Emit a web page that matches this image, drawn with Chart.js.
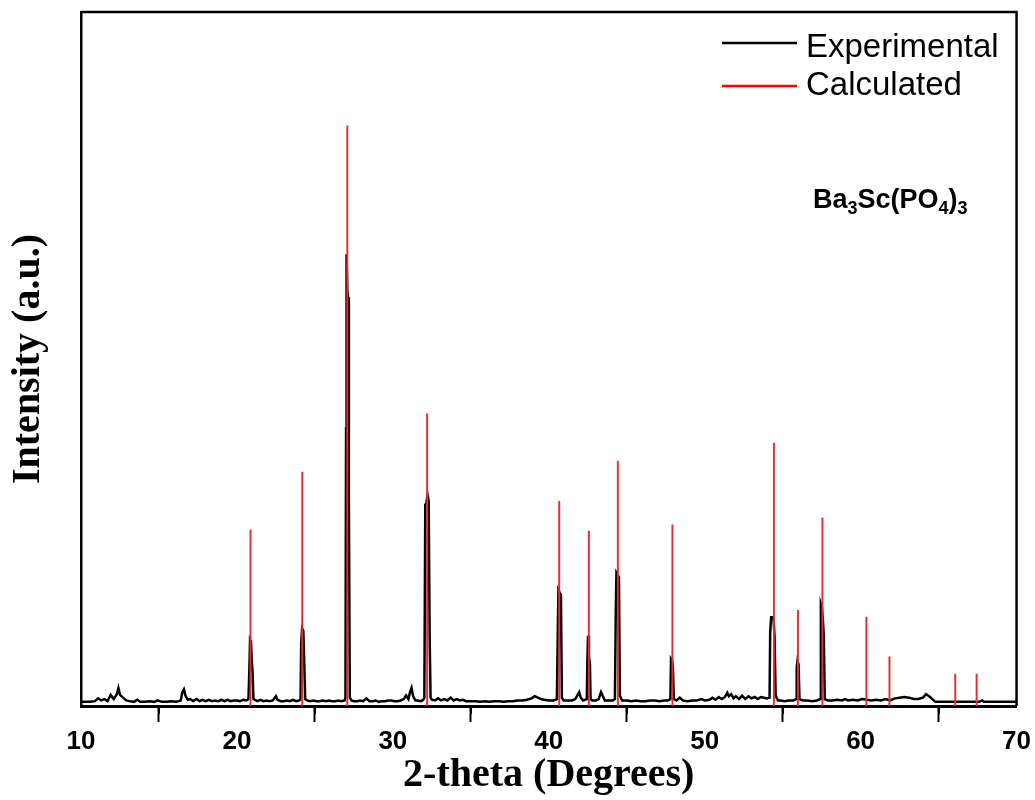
<!DOCTYPE html>
<html lang="en">
<head>
    <meta charset="UTF-8">
    <title>XRD - Ba3Sc(PO4)3</title>
    <script src="https://cdn.jsdelivr.net/npm/chart.js"></script>
    <style>
        html, body { margin: 0; padding: 0; background: #fff; }
        #wrap { width: 1035px; height: 800px; }
    </style>
</head>
<body>
    <div id="wrap">
        <canvas id="xrdChart" width="1035" height="800"></canvas>
    </div>
    <script>
        // x axis ticks (2-theta)
        const xTicks = [10, 20, 30, 40, 50, 60, 70];
        const minorTicks = [15, 25, 35, 45, 55, 65];

        // calculated reflections: positions and relative intensities
        const calcPos = [20.87, 24.19, 27.08, 32.2, 40.67, 42.57, 44.43, 47.93, 54.44, 55.98, 57.55, 60.37, 61.85, 66.07, 67.44];
        const calcInt = [25.4, 33.7, 83.6, 42.1, 29.5, 25.2, 35.3, 26.1, 37.9, 13.8, 27.1, 12.8, 7.1, 4.6, 4.6];

        // experimental pattern, [2-theta, intensity]
        const experimental = [
            [10.0, 0.6], [10.3, 0.6], [10.6, 0.6], [10.9, 0.7], [11.1, 1.1], [11.3, 0.8], [11.5, 1.0], [11.7, 0.7],
            [11.9, 1.6], [12.1, 1.0], [12.3, 1.7], [12.4, 2.6], [12.5, 1.6], [12.7, 1.2], [12.9, 0.8], [13.1, 0.7],
            [13.4, 0.6], [13.6, 0.9], [13.8, 0.6], [14.1, 0.6], [14.4, 0.7], [14.7, 0.6], [14.9, 0.8], [15.2, 0.6],
            [15.5, 0.6], [15.8, 0.7], [16.1, 0.6], [16.4, 0.8], [16.5, 2.0], [16.6, 2.4], [16.7, 1.5], [16.85, 0.9],
            [17.0, 1.0], [17.2, 0.7], [17.4, 1.0], [17.6, 0.7], [17.8, 0.9], [18.0, 0.7], [18.2, 0.9], [18.4, 0.7],
            [18.6, 0.8], [18.8, 0.7], [19.0, 0.9], [19.2, 0.7], [19.4, 0.9], [19.6, 0.7], [19.8, 0.8], [20.0, 0.8],
            [20.2, 0.7], [20.4, 0.9], [20.6, 0.8], [20.74, 1.0], [20.8, 5.5], [20.84, 9.5], [20.9, 9.2], [20.95, 6.6],
            [21.0, 5.0], [21.06, 1.0], [21.15, 0.9], [21.3, 0.7], [21.5, 0.9], [21.7, 0.7], [21.9, 0.8], [22.1, 0.7],
            [22.3, 0.8], [22.5, 1.4], [22.6, 0.9], [22.8, 0.7], [23.0, 0.7], [23.2, 0.8], [23.4, 0.7], [23.6, 0.9],
            [23.8, 0.7], [24.0, 0.8], [24.08, 1.0], [24.12, 9.0], [24.18, 11.2], [24.26, 10.8], [24.32, 6.0], [24.38, 1.0],
            [24.5, 0.8], [24.7, 0.7], [24.9, 0.8], [25.1, 0.7], [25.3, 0.7], [25.5, 0.8], [25.7, 0.7], [25.9, 0.8],
            [26.1, 0.7], [26.3, 0.7], [26.5, 0.8], [26.7, 0.7], [26.9, 0.8], [26.96, 1.2], [27.0, 40.0], [27.03, 65.1],
            [27.08, 60.0], [27.13, 58.9], [27.18, 30.0], [27.24, 1.2], [27.35, 0.8], [27.5, 0.7], [27.7, 0.7], [27.9, 0.8],
            [28.1, 0.7], [28.3, 1.1], [28.5, 0.7], [28.7, 0.7], [28.9, 0.8], [29.1, 0.6], [29.3, 0.7], [29.5, 0.7],
            [29.7, 0.8], [29.9, 0.8], [30.1, 0.7], [30.3, 0.7], [30.5, 0.8], [30.7, 1.0], [30.85, 1.5], [31.0, 1.0],
            [31.1, 2.0], [31.2, 2.6], [31.3, 1.4], [31.45, 0.8], [31.6, 0.8], [31.8, 0.7], [31.95, 0.9], [32.02, 1.2],
            [32.08, 29.0], [32.15, 29.2], [32.22, 30.5], [32.3, 29.5], [32.36, 10.0], [32.42, 1.2], [32.5, 0.9], [32.7, 0.8],
            [32.9, 1.1], [33.1, 0.8], [33.3, 1.0], [33.5, 0.8], [33.7, 1.2], [33.9, 0.8], [34.1, 1.0], [34.3, 0.8],
            [34.5, 0.9], [34.7, 0.7], [35.0, 0.7], [35.3, 0.7], [35.6, 0.6], [35.9, 0.7], [36.2, 0.6], [36.5, 0.7],
            [36.8, 0.7], [37.1, 0.6], [37.4, 0.7], [37.7, 0.7], [38.0, 0.8], [38.3, 0.8], [38.6, 0.9], [38.9, 1.1],
            [39.1, 1.4], [39.3, 1.2], [39.5, 1.0], [39.7, 0.9], [40.0, 0.8], [40.3, 0.8], [40.52, 1.0], [40.58, 11.0],
            [40.62, 16.7], [40.7, 16.3], [40.78, 16.0], [40.84, 1.2], [40.95, 0.8], [41.2, 0.8], [41.5, 0.8], [41.7, 1.0],
            [41.85, 1.6], [41.95, 2.0], [42.05, 1.2], [42.2, 0.8], [42.44, 1.0], [42.48, 7.0], [42.52, 10.1], [42.58, 7.1],
            [42.64, 6.0], [42.68, 1.0], [42.8, 0.8], [43.0, 0.8], [43.2, 1.0], [43.35, 2.0], [43.45, 1.5], [43.6, 0.8],
            [43.9, 0.8], [44.1, 0.8], [44.24, 1.0], [44.3, 14.0], [44.34, 19.2], [44.42, 18.9], [44.5, 18.5], [44.56, 1.5],
            [44.7, 0.8], [45.0, 0.8], [45.3, 0.7], [45.6, 0.8], [45.9, 0.7], [46.2, 0.7], [46.5, 0.8], [46.8, 0.8],
            [47.1, 0.7], [47.4, 0.8], [47.65, 0.8], [47.8, 1.0], [47.84, 6.8], [47.9, 6.6], [47.96, 5.6], [48.02, 1.0],
            [48.2, 0.8], [48.4, 1.2], [48.6, 0.8], [48.9, 0.7], [49.2, 0.8], [49.5, 0.8], [49.8, 1.0], [50.0, 0.8],
            [50.3, 0.9], [50.5, 1.2], [50.7, 0.9], [50.9, 1.3], [51.1, 1.0], [51.3, 1.3], [51.45, 1.9], [51.55, 1.4],
            [51.7, 1.7], [51.85, 1.1], [52.0, 1.4], [52.2, 1.0], [52.4, 1.5], [52.6, 1.0], [52.8, 1.4], [53.0, 1.1],
            [53.2, 1.3], [53.4, 1.0], [53.6, 1.3], [53.8, 1.2], [54.0, 1.1], [54.16, 1.2], [54.2, 10.5], [54.26, 12.8],
            [54.34, 12.8], [54.42, 12.5], [54.48, 10.0], [54.55, 1.5], [54.7, 0.8], [54.9, 0.8], [55.1, 0.7], [55.4, 0.8],
            [55.7, 0.8], [55.86, 1.0], [55.9, 5.5], [55.95, 6.5], [56.02, 6.0], [56.08, 1.0], [56.3, 0.8], [56.6, 0.8],
            [56.9, 0.7], [57.2, 0.8], [57.4, 1.0], [57.45, 14.7], [57.52, 14.2], [57.58, 12.4], [57.64, 10.0], [57.7, 1.0],
            [57.9, 0.8], [58.2, 0.8], [58.5, 0.9], [58.8, 0.8], [59.0, 1.0], [59.2, 0.8], [59.5, 0.9], [59.8, 0.8],
            [60.1, 1.0], [60.4, 0.9], [60.7, 0.8], [61.0, 0.9], [61.3, 0.8], [61.6, 1.0], [61.9, 0.8], [62.2, 1.1],
            [62.5, 1.2], [62.8, 1.3], [63.1, 1.2], [63.4, 1.0], [63.7, 1.0], [64.0, 1.2], [64.2, 1.7], [64.4, 1.4],
            [64.6, 1.0], [64.8, 0.6], [65.0, 0.6], [65.3, 0.6], [65.6, 0.6], [66.0, 0.6], [66.4, 0.6], [66.8, 0.6],
            [67.2, 0.6], [67.6, 0.6], [67.8, 0.8], [67.9, 0.6], [68.3, 0.6], [68.7, 0.6], [69.1, 0.6], [69.5, 0.6],
            [69.8, 0.6], [70.0, 0.6]
        ];

        const RED = 'rgb(228, 45, 55)';

        // frame, minor ticks, legend and compound label
        const decorations = {
            id: 'decorations',
            afterDraw(chart) {
                const ctx = chart.ctx;
                const area = chart.chartArea;
                const xs = chart.scales.x;
                ctx.save();
                ctx.strokeStyle = '#000';
                ctx.lineWidth = 2.5;
                ctx.beginPath();
                ctx.moveTo(area.left, area.top);
                ctx.lineTo(area.right, area.top);
                ctx.lineTo(area.right, area.bottom);
                ctx.stroke();

                ctx.lineWidth = 2;
                minorTicks.forEach(v => {
                    const px = Math.round(xs.getPixelForValue(v));
                    ctx.beginPath();
                    ctx.moveTo(px, area.bottom);
                    ctx.lineTo(px, area.bottom + 8);
                    ctx.stroke();
                });

                // legend
                ctx.lineWidth = 2.5;
                ctx.strokeStyle = '#000';
                ctx.beginPath();
                ctx.moveTo(722, 43);
                ctx.lineTo(797, 43);
                ctx.stroke();
                ctx.strokeStyle = 'rgb(255, 0, 0)';
                ctx.beginPath();
                ctx.moveTo(722, 86);
                ctx.lineTo(797, 86);
                ctx.stroke();
                ctx.fillStyle = '#000';
                ctx.font = '33px "Liberation Sans", Arial, sans-serif';
                ctx.textBaseline = 'alphabetic';
                ctx.fillText('Experimental', 806, 57);
                ctx.fillText('Calculated', 806, 95);

                // Ba3Sc(PO4)3
                const parts = [['Ba', 0], ['3', 1], ['Sc(PO', 0], ['4', 1], [')', 0], ['3', 1]];
                let x = 813;
                parts.forEach(([t, sub]) => {
                    ctx.font = sub ? 'bold 18px "Liberation Sans", Arial' : 'bold 27px "Liberation Sans", Arial';
                    ctx.fillText(t, x, sub ? 214 : 208);
                    x += ctx.measureText(t).width;
                });
                ctx.restore();
            }
        };

        const ctx = document.getElementById('xrdChart').getContext('2d');
        new Chart(ctx, {
            type: 'line',
            data: {
                datasets: [{
                    type: 'bar',
                    label: 'Calculated',
                    data: calcPos.map((p, i) => ({x: p, y: calcInt[i]})),
                    backgroundColor: RED,
                    borderWidth: 0,
                    barThickness: 1.3,
                    grouped: false,
                    order: 0
                }, {
                    label: 'Experimental',
                    data: experimental.map(d => ({x: d[0], y: d[1]})),
                    borderColor: '#000',
                    borderWidth: 2.5,
                    pointRadius: 0,
                    tension: 0,
                    fill: false,
                    order: 1
                }]
            },
            options: {
                responsive: false,
                animation: false,
                events: [],
                layout: {padding: {top: 12, right: 18, left: 0, bottom: 0}},
                plugins: {
                    legend: {display: false},
                    tooltip: {enabled: false}
                },
                scales: {
                    x: {
                        type: 'linear',
                        min: 10,
                        max: 70,
                        offset: false,
                        afterBuildTicks: scale => {
                            scale.ticks = xTicks.map(v => ({value: v}));
                        },
                        afterFit: scale => { scale.height = 94; },
                        ticks: {
                            color: '#000',
                            padding: 4,
                            maxRotation: 0,
                            font: {family: '"Liberation Sans", Arial', size: 26, weight: 'bold'}
                        },
                        grid: {
                            display: true,
                            drawOnChartArea: false,
                            drawTicks: true,
                            tickLength: 16,
                            tickWidth: 2,
                            tickColor: '#000',
                            color: '#000'
                        },
                        border: {display: true, color: '#000', width: 3},
                        title: {
                            display: true,
                            text: '2-theta (Degrees)',
                            color: '#000',
                            padding: {top: 0, bottom: 0},
                            font: {family: '"Liberation Serif", "Times New Roman", serif', size: 40, weight: 'bold'}
                        }
                    },
                    y: {
                        min: 0,
                        max: 100,
                        afterFit: scale => { scale.width = 81; },
                        ticks: {display: false},
                        grid: {display: false, drawTicks: false},
                        border: {display: true, color: '#000', width: 2.5},
                        title: {
                            display: true,
                            text: 'Intensity (a.u.)',
                            color: '#000',
                            padding: {top: 5, bottom: 0},
                            font: {family: '"Liberation Serif", "Times New Roman", serif', size: 40, weight: 'bold'}
                        }
                    }
                }
            },
            plugins: [decorations]
        });
    </script>
</body>
</html>
